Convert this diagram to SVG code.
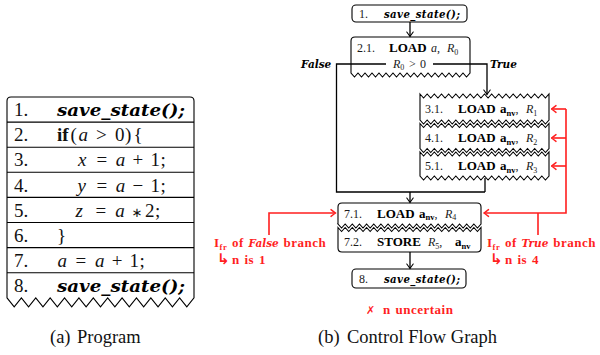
<svg xmlns="http://www.w3.org/2000/svg" width="600" height="355" viewBox="0 0 600 355">
  <defs>
    <style>
      .box { fill: #fff; stroke: #000; stroke-width: 1.1; }
      .sep { fill: none; stroke: #000; stroke-width: 1.1; }
      .conn { fill: none; stroke: #000; stroke-width: 1.3; }
      .rl { fill: none; stroke: #ff1f1f; stroke-width: 1.6; }
      .t { font-family: "Liberation Serif", serif; font-size: 12px; fill: #1a1a1a; }
      .tt { font-family: "Liberation Serif", serif; font-size: 19px; fill: #111; }
      .cap { font-family: "Liberation Serif", serif; font-size: 18.5px; fill: #111; }
      .b { font-weight: bold; font-size: 13px; fill: #000; }
      .sub { font-weight: bold; font-size: 8.5px; fill: #000; }
      .i { font-style: italic; }
      .bi { font-family: "DejaVu Serif", serif; font-weight: bold; font-style: italic; }
      .rt { font-family: "Liberation Serif", serif; font-size: 13px; font-weight: bold; fill: #ff1f1f; letter-spacing: 0.5px; word-spacing: 1px; }
      .sym { font-family: "DejaVu Sans", sans-serif; }
    </style>
    <marker id="arrow" viewBox="-6 -5 7 10" refX="0" refY="0" markerWidth="7" markerHeight="10" orient="auto" markerUnits="userSpaceOnUse">
      <path d="M-4.5,-3.2 Q-1.2,-0.8 0,0 Q-1.2,0.8 -4.5,3.2" fill="none" stroke="#000" stroke-width="1.1" stroke-linecap="round"/>
    </marker>
    <marker id="arrow-red" viewBox="-6 -5 7 10" refX="0" refY="0" markerWidth="7" markerHeight="10" orient="auto" markerUnits="userSpaceOnUse">
      <path d="M-4.5,-3.4 Q-1.2,-0.8 0,0 Q-1.2,0.8 -4.5,3.4" fill="none" stroke="#ff1f1f" stroke-width="1.4" stroke-linecap="round"/>
    </marker>
  </defs>

  <!-- (a) program listing -->
  <g id="program">
    <path class="box" d="M7,297.8 L7,101 Q7,97 11,97 L190,97 Q194,97 194,101 L194,297.8 l-7.1923,9 -7.1923,-9 -7.1923,9 -7.1923,-9 -7.1923,9 -7.1923,-9 -7.1923,9 -7.1923,-9 -7.1923,9 -7.1923,-9 -7.1923,9 -7.1923,-9 -7.1923,9 -7.1923,-9 -7.1923,9 -7.1923,-9 -7.1923,9 -7.1923,-9 -7.1923,9 -7.1923,-9 -7.1923,9 -7.1923,-9 -7.1923,9 -7.1923,-9 -7.1923,9 -7.1923,-9 Z"/>
    <path class="sep" d="M7,122.1H194 M7,147.2H194 M7,172.3H194 M7,197.4H194 M7,222.5H194 M7,247.6H194 M7,272.7H194"/>
    <text class="tt" x="14" y="116">1.</text>
    <text class="bi" x="57" y="116" font-size="17" fill="#000" textLength="128" lengthAdjust="spacingAndGlyphs">save_state();</text>
    <text class="tt" x="14" y="141">2.</text>
    <text class="tt" y="141"><tspan x="57" font-weight="bold">if</tspan><tspan x="70.5">(</tspan><tspan x="78.5" class="i">a</tspan><tspan x="96">&gt;</tspan><tspan x="115">0</tspan><tspan x="125">)</tspan><tspan x="133.5">{</tspan></text>
    <text class="tt" x="14" y="166">3.</text>
    <text class="tt" y="166"><tspan x="78" class="i">x</tspan><tspan x="96.4">=</tspan><tspan x="115.7" class="i">a</tspan><tspan x="132.6">+</tspan><tspan x="150.5">1</tspan><tspan x="160.4">;</tspan></text>
    <text class="tt" x="14" y="191.5">4.</text>
    <text class="tt" y="191.5"><tspan x="77.5" class="i">y</tspan><tspan x="96.4">=</tspan><tspan x="115.7" class="i">a</tspan><tspan x="132.6">−</tspan><tspan x="150.5">1</tspan><tspan x="160.4">;</tspan></text>
    <text class="tt" x="14" y="216.5">5.</text>
    <text class="tt" y="216.5"><tspan x="75.5" class="i">z</tspan><tspan x="95.5">=</tspan><tspan x="115.2" class="i">a</tspan><tspan x="131.5" class="sym" font-size="13">∗</tspan><tspan x="145">2</tspan><tspan x="155">;</tspan></text>
    <text class="tt" x="14" y="241.5">6.</text>
    <text class="tt" x="57" y="241.5">}</text>
    <text class="tt" x="14" y="266.5">7.</text>
    <text class="tt" y="266.5"><tspan x="57.5" class="i">a</tspan><tspan x="75.6">=</tspan><tspan x="95" class="i">a</tspan><tspan x="111.8">+</tspan><tspan x="129.6">1</tspan><tspan x="139.6">;</tspan></text>
    <text class="tt" x="14" y="291.5">8.</text>
    <text class="bi" x="57" y="291.5" font-size="17" fill="#000" textLength="128" lengthAdjust="spacingAndGlyphs">save_state();</text>
  </g>
  <text class="cap" y="342.5"><tspan x="50">(a)</tspan><tspan x="77">Program</tspan></text>

  <!-- (b) control flow graph -->
  <g id="n1">
    <rect class="box" x="352" y="5" width="115" height="17" rx="4"/>
    <text class="t" x="359" y="17.5">1.</text>
    <text class="bi" x="384" y="17.5" font-size="10.2" fill="#000" textLength="76">save_state();</text>
  </g>

  <g id="n2_1">
    <path class="box" d="M351,73 L351,41 Q351,37 355,37 L466,37 Q470,37 470,41 L470,73 l-3.5,4 -3.5,-4 -3.5,4 -3.5,-4 -3.5,4 -3.5,-4 -3.5,4 -3.5,-4 -3.5,4 -3.5,-4 -3.5,4 -3.5,-4 -3.5,4 -3.5,-4 -3.5,4 -3.5,-4 -3.5,4 -3.5,-4 -3.5,4 -3.5,-4 -3.5,4 -3.5,-4 -3.5,4 -3.5,-4 -3.5,4 -3.5,-4 -3.5,4 -3.5,-4 -3.5,4 -3.5,-4 -3.5,4 -3.5,-4 -3.5,4 -3.5,-4 Z"/>
    <text class="t" y="52"><tspan x="357">2.1.</tspan><tspan x="389" class="b">LOAD</tspan><tspan x="431" class="i">a</tspan><tspan>,</tspan><tspan x="447" class="i">R</tspan><tspan font-size="8" dy="2.5">0</tspan></text>
    <text class="t" y="67.5"><tspan x="393" class="i">R</tspan><tspan font-size="8" dy="2.5">0</tspan><tspan x="409" dy="-2.5">&gt;</tspan><tspan x="420">0</tspan></text>
  </g>

  <g id="n3_1">
    <path class="box" d="M420,94 l3.5833,4 3.5833,-4 3.5833,4 3.5833,-4 3.5833,4 3.5833,-4 3.5833,4 3.5833,-4 3.5833,4 3.5833,-4 3.5833,4 3.5833,-4 3.5833,4 3.5833,-4 3.5833,4 3.5833,-4 3.5833,4 3.5833,-4 3.5833,4 3.5833,-4 3.5833,4 3.5833,-4 3.5833,4 3.5833,-4 3.5833,4 3.5833,-4 3.5833,4 3.5833,-4 3.5833,4 3.5833,-4 3.5833,4 3.5833,-4 3.5833,4 3.5833,-4 3.5833,4 3.5833,-4 L549,120 l-3.5833,4 -3.5833,-4 -3.5833,4 -3.5833,-4 -3.5833,4 -3.5833,-4 -3.5833,4 -3.5833,-4 -3.5833,4 -3.5833,-4 -3.5833,4 -3.5833,-4 -3.5833,4 -3.5833,-4 -3.5833,4 -3.5833,-4 -3.5833,4 -3.5833,-4 -3.5833,4 -3.5833,-4 -3.5833,4 -3.5833,-4 -3.5833,4 -3.5833,-4 -3.5833,4 -3.5833,-4 -3.5833,4 -3.5833,-4 -3.5833,4 -3.5833,-4 -3.5833,4 -3.5833,-4 -3.5833,4 -3.5833,-4 -3.5833,4 -3.5833,-4 Z"/>
    <text class="t" y="113"><tspan x="425">3.1.</tspan><tspan x="458" class="b">LOAD</tspan><tspan x="500" class="b">a</tspan><tspan class="sub" dy="2.5">nv</tspan><tspan dy="-2.5">,</tspan><tspan x="526" class="i">R</tspan><tspan font-size="8" dy="2.5">1</tspan></text>
  </g>

  <g id="n4_1">
    <path class="box" d="M420,123.5 l3.5833,4 3.5833,-4 3.5833,4 3.5833,-4 3.5833,4 3.5833,-4 3.5833,4 3.5833,-4 3.5833,4 3.5833,-4 3.5833,4 3.5833,-4 3.5833,4 3.5833,-4 3.5833,4 3.5833,-4 3.5833,4 3.5833,-4 3.5833,4 3.5833,-4 3.5833,4 3.5833,-4 3.5833,4 3.5833,-4 3.5833,4 3.5833,-4 3.5833,4 3.5833,-4 3.5833,4 3.5833,-4 3.5833,4 3.5833,-4 3.5833,4 3.5833,-4 3.5833,4 3.5833,-4 L549,148.5 l-3.5833,4 -3.5833,-4 -3.5833,4 -3.5833,-4 -3.5833,4 -3.5833,-4 -3.5833,4 -3.5833,-4 -3.5833,4 -3.5833,-4 -3.5833,4 -3.5833,-4 -3.5833,4 -3.5833,-4 -3.5833,4 -3.5833,-4 -3.5833,4 -3.5833,-4 -3.5833,4 -3.5833,-4 -3.5833,4 -3.5833,-4 -3.5833,4 -3.5833,-4 -3.5833,4 -3.5833,-4 -3.5833,4 -3.5833,-4 -3.5833,4 -3.5833,-4 -3.5833,4 -3.5833,-4 -3.5833,4 -3.5833,-4 -3.5833,4 -3.5833,-4 Z"/>
    <text class="t" y="142"><tspan x="425">4.1.</tspan><tspan x="458" class="b">LOAD</tspan><tspan x="500" class="b">a</tspan><tspan class="sub" dy="2.5">nv</tspan><tspan dy="-2.5">,</tspan><tspan x="526" class="i">R</tspan><tspan font-size="8" dy="2.5">2</tspan></text>
  </g>

  <g id="n5_1">
    <path class="box" d="M420,152 l3.5833,4 3.5833,-4 3.5833,4 3.5833,-4 3.5833,4 3.5833,-4 3.5833,4 3.5833,-4 3.5833,4 3.5833,-4 3.5833,4 3.5833,-4 3.5833,4 3.5833,-4 3.5833,4 3.5833,-4 3.5833,4 3.5833,-4 3.5833,4 3.5833,-4 3.5833,4 3.5833,-4 3.5833,4 3.5833,-4 3.5833,4 3.5833,-4 3.5833,4 3.5833,-4 3.5833,4 3.5833,-4 3.5833,4 3.5833,-4 3.5833,4 3.5833,-4 3.5833,4 3.5833,-4 L549,176 l-3.5833,4 -3.5833,-4 -3.5833,4 -3.5833,-4 -3.5833,4 -3.5833,-4 -3.5833,4 -3.5833,-4 -3.5833,4 -3.5833,-4 -3.5833,4 -3.5833,-4 -3.5833,4 -3.5833,-4 -3.5833,4 -3.5833,-4 -3.5833,4 -3.5833,-4 -3.5833,4 -3.5833,-4 -3.5833,4 -3.5833,-4 -3.5833,4 -3.5833,-4 -3.5833,4 -3.5833,-4 -3.5833,4 -3.5833,-4 -3.5833,4 -3.5833,-4 -3.5833,4 -3.5833,-4 -3.5833,4 -3.5833,-4 -3.5833,4 -3.5833,-4 Z"/>
    <text class="t" y="170"><tspan x="425">5.1.</tspan><tspan x="458" class="b">LOAD</tspan><tspan x="500" class="b">a</tspan><tspan class="sub" dy="2.5">nv</tspan><tspan dy="-2.5">,</tspan><tspan x="526" class="i">R</tspan><tspan font-size="8" dy="2.5">3</tspan></text>
  </g>

  <g id="n7_1">
    <path class="box" d="M338,224 L338,207 Q338,203 342,203 L477,203 Q481,203 481,207 L481,224 l-3.575,4 -3.575,-4 -3.575,4 -3.575,-4 -3.575,4 -3.575,-4 -3.575,4 -3.575,-4 -3.575,4 -3.575,-4 -3.575,4 -3.575,-4 -3.575,4 -3.575,-4 -3.575,4 -3.575,-4 -3.575,4 -3.575,-4 -3.575,4 -3.575,-4 -3.575,4 -3.575,-4 -3.575,4 -3.575,-4 -3.575,4 -3.575,-4 -3.575,4 -3.575,-4 -3.575,4 -3.575,-4 -3.575,4 -3.575,-4 -3.575,4 -3.575,-4 -3.575,4 -3.575,-4 -3.575,4 -3.575,-4 -3.575,4 -3.575,-4 Z"/>
    <text class="t" y="217.5"><tspan x="344">7.1.</tspan><tspan x="377" class="b">LOAD</tspan><tspan x="419" class="b">a</tspan><tspan class="sub" dy="2.5">nv</tspan><tspan dy="-2.5">,</tspan><tspan x="445" class="i">R</tspan><tspan font-size="8" dy="2.5">4</tspan></text>
  </g>

  <g id="n7_2">
    <path class="box" d="M338,227.5 l3.575,4 3.575,-4 3.575,4 3.575,-4 3.575,4 3.575,-4 3.575,4 3.575,-4 3.575,4 3.575,-4 3.575,4 3.575,-4 3.575,4 3.575,-4 3.575,4 3.575,-4 3.575,4 3.575,-4 3.575,4 3.575,-4 3.575,4 3.575,-4 3.575,4 3.575,-4 3.575,4 3.575,-4 3.575,4 3.575,-4 3.575,4 3.575,-4 3.575,4 3.575,-4 3.575,4 3.575,-4 3.575,4 3.575,-4 3.575,4 3.575,-4 3.575,4 3.575,-4 L481,248 Q481,252 477,252 L342,252 Q338,252 338,248 Z"/>
    <text class="t" y="246"><tspan x="344">7.2.</tspan><tspan x="377" class="b">STORE</tspan><tspan x="428" class="i">R</tspan><tspan font-size="8" dy="2.5">5</tspan><tspan dy="-2.5">,</tspan><tspan x="455" class="b">a</tspan><tspan class="sub" dy="2.5">nv</tspan></text>
  </g>

  <g id="n8">
    <rect class="box" x="352" y="269" width="114" height="19" rx="4"/>
    <text class="t" x="359" y="283">8.</text>
    <text class="bi" x="384" y="283" font-size="10.2" fill="#000" textLength="76">save_state();</text>
  </g>

  <g id="connectors">
    <path class="conn" d="M410,22 V36.5" marker-end="url(#arrow)"/>
    <path class="conn" d="M386,64 H336.5 V192 H485 M485,178 V192"/>
    <path class="conn" d="M410,192 V202.5" marker-end="url(#arrow)"/>
    <path class="conn" d="M433,64 H487 V94.5" marker-end="url(#arrow)"/>
    <path class="conn" d="M410,252 V268.5" marker-end="url(#arrow)"/>
  </g>
  <text class="bi" x="301" y="68" font-size="10.5" fill="#000">False</text>
  <text class="bi" x="490" y="68" font-size="10.5" fill="#000">True</text>

  <!-- I_fr annotations -->
  <g id="ifr-arrows">
    <path class="rl" d="M566,109 V213 H484" marker-end="url(#arrow-red)"/>
    <path class="rl" d="M566,109 H551.5" marker-end="url(#arrow-red)"/>
    <path class="rl" d="M566,138 H551.5" marker-end="url(#arrow-red)"/>
    <path class="rl" d="M566,166 H551.5" marker-end="url(#arrow-red)"/>
    <path class="rl" d="M538,213 V235"/>
    <path class="rl" d="M269,235 V213 H335.5" marker-end="url(#arrow-red)"/>
  </g>
  <text class="rt" x="214" y="247">I<tspan font-size="8.5" dy="2.5">fr</tspan><tspan dy="-2.5"> of </tspan><tspan class="bi" font-size="10.5" letter-spacing="0">False</tspan> branch</text>
  <text class="rt" y="264"><tspan x="217" class="sym" font-size="15">↳</tspan><tspan x="232" dy="-0.5">n is 1</tspan></text>
  <text class="rt" x="487" y="247">I<tspan font-size="8.5" dy="2.5">fr</tspan><tspan dy="-2.5"> of </tspan><tspan class="bi" font-size="10.5" letter-spacing="0">True</tspan> branch</text>
  <text class="rt" y="264"><tspan x="490" class="sym" font-size="15">↳</tspan><tspan x="505" dy="-0.5">n is 4</tspan></text>
  <text class="rt" y="313.5"><tspan x="366" class="sym" font-size="11">✗</tspan><tspan x="383">n uncertain</tspan></text>

  <text class="cap" y="343"><tspan x="318">(b)</tspan><tspan x="347">Control Flow Graph</tspan></text>
</svg>
